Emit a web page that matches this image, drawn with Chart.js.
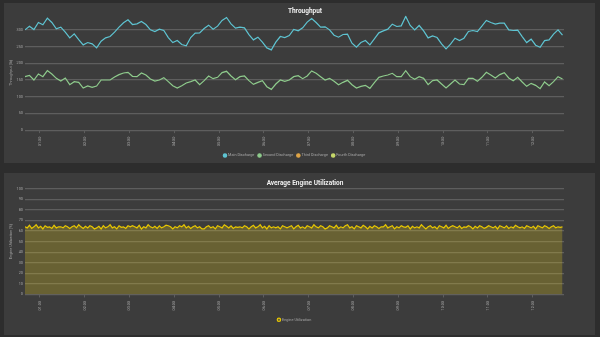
<!DOCTYPE html>
<html>
<head>
<meta charset="utf-8">
<script src="https://cdn.jsdelivr.net/npm/chart.js@4.4.0/dist/chart.umd.min.js"></script>
<style>
  html, body { margin: 0; padding: 0; background: #2d2d2d; width: 600px; height: 337px; overflow: hidden; }
  .panel { position: absolute; left: 4px; width: 591px; background: #3c3c3c; overflow: hidden; }
  #p1 { top: 3px; height: 160px; }
  #p2 { top: 173px; height: 162px; }
</style>
</head>
<body>
<div class="panel" id="p1"><canvas id="throughputChart"></canvas></div>
<div class="panel" id="p2"><canvas id="engineChart"></canvas></div>
<script>
// time axis: minutes after midnight, one sample every 6 min from 00:40
const startMin = 40;
const stepMin = 6;
const endMin = 762;
const hourTicks = [60, 120, 180, 240, 300, 360, 420, 480, 540, 600, 660, 720];
const throughputTicks = [0, 50, 100, 150, 200, 250, 300];

const mainDischarge = [
  300, 311, 301, 322, 315, 335, 322, 303, 308, 293,
  276, 288, 271, 255, 262, 258, 246, 266, 276, 280,
  293, 308, 321, 330, 316, 318, 325, 316, 300, 295,
  302, 298, 277, 262, 268, 256, 252, 277, 290, 291,
  304, 314, 302, 311, 328, 337, 318, 305, 308, 306,
  286, 270, 278, 263, 246, 240, 263, 280, 277, 283,
  301, 297, 306, 323, 334, 322, 308, 309, 300, 284,
  278, 286, 287, 260, 248, 262, 268, 255, 273, 291,
  297, 302, 317, 310, 312, 340, 313, 300, 313, 297,
  276, 282, 277, 258, 243, 257, 275, 268, 275, 295,
  298, 295, 311, 328, 322, 317, 320, 320, 300, 298,
  299, 280, 262, 272, 254, 248, 268, 270, 287, 300,
  284
];
const secondDischarge = [
  160, 164, 150, 168, 160, 178, 168, 155, 147, 156,
  136, 145, 143, 126, 132, 128, 132, 150, 150, 150,
  159, 166, 171, 173, 161, 160, 171, 165, 153, 147,
  150, 157, 145, 133, 126, 133, 141, 145, 150, 136,
  148, 162, 154, 158, 172, 176, 162, 151, 160, 162,
  148, 137, 143, 148, 130, 122, 138, 150, 146, 150,
  160, 163, 154, 162, 177, 170, 160, 150, 155, 146,
  136, 143, 149, 136, 126, 131, 134, 125, 142, 158,
  162, 165, 170, 160, 160, 178, 160, 152, 160, 155,
  136, 148, 150, 138, 126, 138, 150, 138, 136, 155,
  155, 146, 158, 173, 165, 156, 166, 172, 156, 148,
  158, 144, 131, 140, 134, 124, 144, 133, 145, 160,
  153
];
const thirdDischarge = [];
const fourthDischarge = [];

// engine samples every 3 min from 00:40
const engineStepMin = 3;
const engineUtilization = [
  64, 63, 65.5, 62.5, 64, 66, 63, 64.5, 62, 65, 63.5, 64, 62.5, 65.5, 63, 64,
  64, 63, 65, 64, 62.5, 64, 65, 63, 66, 64, 62.5, 64.5, 63, 65, 64, 62,
  63, 64.5, 62, 65, 63, 64, 66, 63, 64, 62, 65, 63.5, 64, 62.5, 65, 64,
  65, 64, 63, 65.5, 62, 64, 63, 66, 64, 63, 64.5, 62.5, 65, 63, 64, 65.5,
  65, 64, 62, 64, 63, 65, 64, 66, 63, 64.5, 62.5, 64, 65, 63, 64, 62,
  62, 64, 65, 63, 64, 62, 65, 64, 63, 66, 64.5, 63, 65, 62.5, 64, 63.5,
  64, 63, 65, 64, 62, 64, 65.5, 63, 64, 66, 63, 64.5, 62, 65, 63, 64,
  63, 64, 62, 65, 64, 63, 64, 65, 62, 64, 65.5, 63, 64, 62.5, 65, 64,
  63, 66, 64, 63, 65, 64, 62, 63, 65, 64, 63, 65.5, 62.5, 64, 63, 65,
  66, 63, 64, 62, 65, 64, 63, 65.5, 64, 62, 64.5, 63, 65, 64, 62.5, 64,
  64, 66, 63, 64, 65, 62, 64, 63, 65, 64, 63.5, 65, 62, 64.5, 63, 64,
  63, 66, 64, 62, 64, 65, 63, 64, 62, 65, 64, 63, 65.5, 62.5, 64, 65,
  64, 63, 65, 62.5, 64, 63.5, 65, 64, 62, 64.5, 63, 65, 64, 62.5, 63.5, 65,
  64, 63, 64.5, 62, 65, 64, 63, 65, 62.5, 64, 63, 65.5, 64, 63, 64, 62.5,
  65, 64, 63, 64.5, 62, 65, 64, 63, 65, 64, 62.5, 64, 65, 63, 64, 63.5,
  64
];

const toPoints = (arr, step) => arr.map((v, i) => ({ x: startMin + i * step, y: v }));
const hourLabel = v => String(Math.floor(v / 60)).padStart(2, '0') + ':00';

const tickColor = '#a6a6a6';
const gridColor = '#5e5e5e';
const fontFamily = 'Roboto, sans-serif';

function timeAxis() {
  return {
    type: 'linear',
    min: startMin,
    max: endMin,
    afterBuildTicks: scale => {
      scale.ticks = hourTicks.map(v => ({ value: v }));
    },
    ticks: {
      autoSkip: false,
      minRotation: 90,
      maxRotation: 90,
      color: tickColor,
      font: { family: fontFamily, size: 3.8 },
      padding: 3.5,
      callback: v => hourLabel(v)
    },
    grid: { drawOnChartArea: false, drawTicks: true, tickLength: 3, color: gridColor },
    border: { display: false }
  };
}

// empty spacer on the right so the plot ends where the original one does
const rightSpacer = {
  position: 'right',
  display: true,
  grid: { display: false },
  ticks: { display: false },
  border: { display: false },
  afterFit: scale => { scale.width = 38; }
};

function legendOptions() {
  return {
    position: 'bottom',
    fullSize: false,
    labels: {
      usePointStyle: true,
      pointStyle: 'circle',
      boxWidth: 2.4,
      boxHeight: 2.4,
      padding: 4,
      color: tickColor,
      font: { family: fontFamily, size: 3.8 }
    }
  };
}

function titleOptions(text, padTop, padBottom) {
  return {
    display: true,
    text: text,
    color: '#eeeeee',
    font: { family: fontFamily, size: 6.5, weight: 'bold' },
    padding: { top: padTop, bottom: padBottom }
  };
}

function valueAxis(max, title, ticksList) {
  return {
    min: 0,
    max: max,
    afterBuildTicks: ticksList ? (scale => { scale.ticks = ticksList.map(v => ({ value: v })); }) : undefined,
    ticks: { stepSize: 10, color: tickColor, font: { family: fontFamily, size: 3.8 }, padding: 2 },
    grid: { color: gridColor, lineWidth: 1.2, drawTicks: false },
    border: { display: false },
    title: { display: true, text: title, color: tickColor, font: { family: fontFamily, size: 3.8 }, padding: 1 }
  };
}

new Chart(document.getElementById('throughputChart'), {
  type: 'line',
  data: {
    datasets: [
      { label: 'Main Discharge', data: toPoints(mainDischarge, stepMin), borderColor: '#5ec4d2', backgroundColor: '#5ec4d2', borderWidth: 1.2, pointRadius: 0, tension: 0 },
      { label: 'Second Discharge', data: toPoints(secondDischarge, stepMin), borderColor: '#8ecb8c', backgroundColor: '#8ecb8c', borderWidth: 1.2, pointRadius: 0, tension: 0 },
      { label: 'Third Discharge', data: toPoints(thirdDischarge, stepMin), borderColor: '#e0a546', backgroundColor: '#e0a546', borderWidth: 1.2, pointRadius: 0 },
      { label: 'Fourth Discharge', data: toPoints(fourthDischarge, stepMin), borderColor: '#c6d86a', backgroundColor: '#c6d86a', borderWidth: 1.2, pointRadius: 0 }
    ]
  },
  options: {
    responsive: true,
    maintainAspectRatio: false,
    animation: false,
    layout: { padding: { left: 4, right: -7, top: 0, bottom: -4.4 } },
    plugins: {
      title: titleOptions('Throughput', 4.5, 0.5),
      legend: legendOptions(),
      tooltip: { enabled: false }
    },
    scales: {
      x: timeAxis(),
      y: valueAxis(342, 'Throughput [lb]', throughputTicks),
      y2: rightSpacer
    }
  }
});

new Chart(document.getElementById('engineChart'), {
  type: 'line',
  data: {
    datasets: [
      { label: 'Engine Utilization', data: toPoints(engineUtilization, engineStepMin), borderColor: '#e8c700', backgroundColor: 'rgba(225, 200, 30, 0.27)', fill: 'origin', borderWidth: 1.2, pointRadius: 0, tension: 0 }
    ]
  },
  options: {
    responsive: true,
    maintainAspectRatio: false,
    animation: false,
    layout: { padding: { left: 4, right: -7, top: 0, bottom: 3.3 } },
    plugins: {
      title: titleOptions('Average Engine Utilization', 6, 2),
      legend: legendOptions(),
      tooltip: { enabled: false }
    },
    scales: {
      x: timeAxis(),
      y: valueAxis(100, 'Engine Utilization [%]'),
      y2: rightSpacer
    }
  }
});
</script>
</body>
</html>
